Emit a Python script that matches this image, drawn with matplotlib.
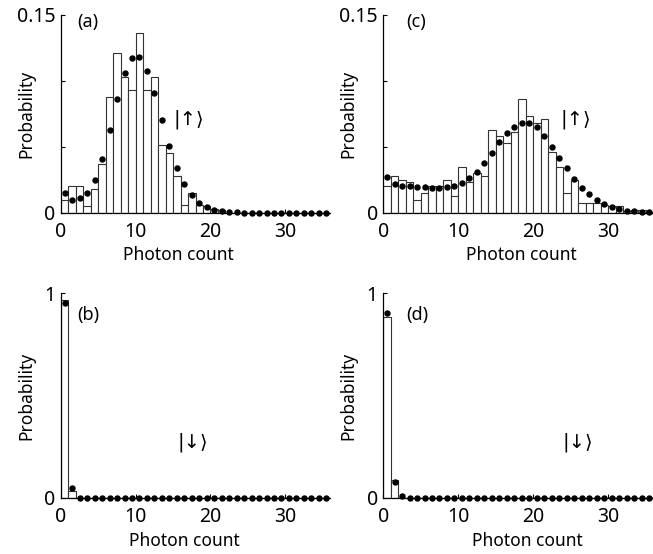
"""Photon-count histograms for bright and dark ion states."""
import matplotlib
matplotlib.use("Agg")
import matplotlib.pyplot as plt
import numpy as np

plt.rcParams["font.family"] = ["Noto Sans", "DejaVu Sans"]

counts = np.arange(36)

# (a) bright state, short detection
a_hist = [0.010, 0.020, 0.020, 0.005, 0.018, 0.037, 0.088, 0.121, 0.103, 0.093,
          0.136, 0.093, 0.103, 0.051, 0.0455, 0.028, 0.0055, 0.015, 0.0055, 0.005,
          0.0025, 0.002, 0, 0, 0, 0, 0, 0, 0, 0, 0, 0, 0, 0, 0, 0]
a_fit = [0.0147, 0.0096, 0.011, 0.0152, 0.0248, 0.0405, 0.0627, 0.0863, 0.106, 0.1176,
         0.118, 0.1075, 0.0906, 0.0703, 0.0506, 0.0336, 0.0218, 0.0132, 0.0076, 0.0041,
         0.002, 0.0012, 0.0005, 0.0002, 0, 0, 0, 0, 0, 0, 0, 0, 0, 0, 0, 0]

# (b) dark state, short detection
b_hist = [0.967, 0.033] + [0] * 34
b_fit = [0.954, 0.046] + [0] * 34

# (c) bright state, long detection
c_hist = [0.020, 0.028, 0.025, 0.023, 0.010, 0.015, 0.020, 0.020, 0.025, 0.013,
          0.035, 0.023, 0.030, 0.028, 0.063, 0.058, 0.053, 0.061, 0.086, 0.073,
          0.068, 0.071, 0.046, 0.035, 0.015, 0.025, 0.0076, 0.0076, 0.0076, 0.006,
          0.005, 0.005, 0.0015, 0.002, 0.002, 0.0005]
c_fit = [0.0268, 0.0218, 0.0202, 0.0202, 0.0192, 0.0192, 0.0185, 0.0188, 0.0192, 0.0202,
         0.0228, 0.026, 0.031, 0.038, 0.0455, 0.054, 0.0607, 0.0653, 0.0683, 0.0683,
         0.0648, 0.0582, 0.0501, 0.0412, 0.0336, 0.0253, 0.019, 0.0139, 0.0096, 0.0066,
         0.004, 0.0025, 0.0015, 0.001, 0.0005, 0.0003]

# (d) dark state, long detection
d_hist = [0.886, 0.086] + [0] * 34
d_fit = [0.905, 0.077, 0.008] + [0] * 33

UP, DOWN = "|\u2191\u27e9", "|\u2193\u27e9"

panels = [
    # rect, hist, fit, tag, tag pos, ket, ket pos, ylim, yticks, labels, xlabel x
    ([0.0934, 0.616, 0.412, 0.357], a_hist, a_fit, "(a)", (0.06, 0.965), UP, (17.1, 0.071),
     0.15, [0, 0.05, 0.10, 0.15], ["0", "", "", "0.15"], 0.437),
    ([0.0934, 0.1016, 0.412, 0.369], b_hist, b_fit, "(b)", (0.06, 0.895), DOWN, (17.7, 0.27),
     1.0, [0, 1], ["0", "1"], 0.46),
    ([0.587, 0.616, 0.413, 0.357], c_hist, c_fit, "(c)", (0.085, 0.965), UP, (25.7, 0.071),
     0.15, [0, 0.05, 0.10, 0.15], ["0", "", "", "0.15"], 0.513),
    ([0.587, 0.1016, 0.413, 0.369], d_hist, d_fit, "(d)", (0.085, 0.895), DOWN, (26.0, 0.27),
     1.0, [0, 1], ["0", "1"], 0.533),
]

fig = plt.figure(figsize=(6.53, 5.54), dpi=100)
for rect, hist, fit, tag, tpos, ket, kpos, ytop, yt, ytl, xlx in panels:
    ax = fig.add_axes(rect)
    ax.bar(counts, hist, width=1, align="edge", color="white", edgecolor="#333333", linewidth=0.8, zorder=2)
    ax.plot(counts + 0.5, fit, "o", color="black", ms=3.6, zorder=3, clip_on=False)
    ax.set_xlim(0, 36); ax.set_ylim(0, ytop)
    ax.set_xticks([0, 10, 20, 30])
    ax.set_yticks(yt, ytl)
    for s in ("top", "right"):
        ax.spines[s].set_visible(False)
    ax.spines["left"].set_linewidth(0.9); ax.spines["bottom"].set_linewidth(0.9)
    ax.tick_params(direction="in", length=3, width=0.8, labelsize=14)
    ax.tick_params(axis="x", pad=7)
    ax.tick_params(axis="y", pad=4)
    ax.set_ylabel("Probability", fontsize=12.5)
    ax.yaxis.set_label_coords(-0.095, 0.5)
    ax.set_xlabel("Photon count", fontsize=12.5)
    ax.xaxis.set_label_coords(xlx, -0.17)
    ax.text(tpos[0], tpos[1], tag, transform=ax.transAxes, fontsize=13, ha="left", va="center")
    ax.text(kpos[0], kpos[1], ket, fontsize=14, ha="center", va="center",
            family=["DejaVu Sans", "Noto Sans"])

fig.savefig("out.png", dpi=100)
